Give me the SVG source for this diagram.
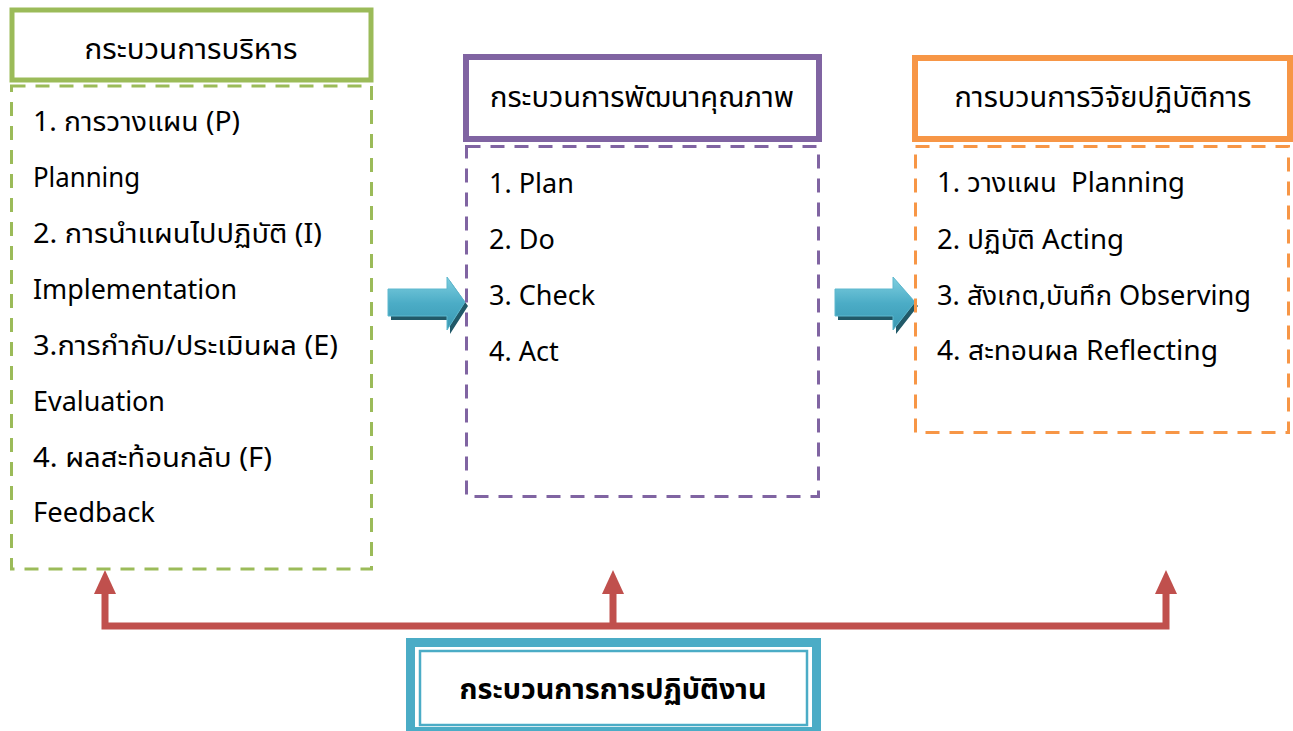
<svg xmlns="http://www.w3.org/2000/svg" width="1293" height="731" viewBox="0 0 1293 731">
<defs>
<style>
text{font-family:"Noto Sans Thai","Noto Sans","DejaVu Sans",sans-serif;font-size:27px;fill:#000}
.hd{text-anchor:middle;font-size:28px}
.dash{fill:none;stroke-width:3;stroke-dasharray:14 10}
.solid{fill:#fff;stroke-width:6}
.red{fill:none;stroke:#C0504D;stroke-width:7}
.redh{fill:#C0504D}
</style>
<linearGradient id="ag" x1="0" y1="0" x2="0" y2="1">
<stop offset="0" stop-color="#7FCFE0"/>
<stop offset="0.5" stop-color="#4BACC6"/>
<stop offset="1" stop-color="#3A98B2"/>
</linearGradient>
</defs>
<rect width="1293" height="731" fill="#fff"/>

<g id="connectors">
<polygon points="391,293 450,293 450,281 468,306 450,334 450,320 391,320" fill="#215968"/>
<polygon points="388,289 447,289 447,277 465,302 447,330 447,316 388,316" fill="url(#ag)" stroke="#5FB8CE" stroke-width="1"/>
<polygon points="838,293 896,293 896,281 918,306 896,334 896,320 838,320" fill="#215968"/>
<polygon points="835,289 893,289 893,277 915,302 893,330 893,316 835,316" fill="url(#ag)" stroke="#5FB8CE" stroke-width="1"/>
<path class="red" d="M105,592 V626 H1166 V592 M613,626 V592"/>
<polygon class="redh" points="105,570 94,594 116,594"/>
<polygon class="redh" points="613,570 602,594 624,594"/>
<polygon class="redh" points="1166,570 1155,594 1177,594"/>
</g>

<g id="node-admin">
<rect x="12" y="10" width="359" height="70" fill="#fff" stroke="#9BBB59" stroke-width="5"/>
<text class="hd" x="191" y="59" textLength="213" lengthAdjust="spacingAndGlyphs">กระบวนการบริหาร</text>
<rect class="dash" x="11.5" y="86" width="360" height="483" stroke="#9BBB59"/>
<text x="33" y="131" textLength="207" lengthAdjust="spacingAndGlyphs">1. การวางแผน (P)</text>
<text x="33" y="187" textLength="107" lengthAdjust="spacingAndGlyphs">Planning</text>
<text x="33" y="243" textLength="289" lengthAdjust="spacingAndGlyphs">2. การนำแผนไปปฏิบัติ (I)</text>
<text x="33" y="299" textLength="204" lengthAdjust="spacingAndGlyphs">Implementation</text>
<text x="33" y="355" textLength="305" lengthAdjust="spacingAndGlyphs">3.การกำกับ/ประเมินผล (E)</text>
<text x="33" y="411" textLength="132" lengthAdjust="spacingAndGlyphs">Evaluation</text>
<text x="33" y="467" textLength="239" lengthAdjust="spacingAndGlyphs">4. ผลสะท้อนกลับ (F)</text>
<text x="33" y="522" textLength="122" lengthAdjust="spacingAndGlyphs">Feedback</text>
</g>

<g id="node-quality">
<rect class="solid" x="466" y="57" width="353" height="82" stroke="#8064A2"/>
<text class="hd" x="642" y="107" textLength="304" lengthAdjust="spacingAndGlyphs">กระบวนการพัฒนาคุณภาพ</text>
<rect class="dash" x="466.5" y="146.5" width="352" height="350" stroke="#8064A2"/>
<text x="489" y="193">1. Plan</text>
<text x="489" y="249">2. Do</text>
<text x="489" y="305">3. Check</text>
<text x="489" y="361">4. Act</text>
</g>

<g id="node-research">
<rect class="solid" x="915" y="58" width="375" height="81" stroke="#F79646"/>
<text class="hd" x="1103" y="107" textLength="297" lengthAdjust="spacingAndGlyphs">การบวนการวิจัยปฏิบัติการ</text>
<rect class="dash" x="915.5" y="146.5" width="373" height="286" stroke="#F79646"/>
<text x="937" y="192" xml:space="preserve" textLength="248" lengthAdjust="spacingAndGlyphs">1. วางแผน  Planning</text>
<text x="937" y="249" textLength="187" lengthAdjust="spacingAndGlyphs">2. ปฏิบัติ Acting</text>
<text x="937" y="305" textLength="314" lengthAdjust="spacingAndGlyphs">3. สังเกต,บันทึก Observing</text>
<text x="937" y="360" textLength="281" lengthAdjust="spacingAndGlyphs">4. สะทอนผล Reflecting</text>
</g>

<g id="node-practice">
<rect x="410.5" y="642.5" width="406" height="89" fill="#fff" stroke="#4BACC6" stroke-width="9"/>
<rect x="420" y="651" width="387" height="74" fill="none" stroke="#4BACC6" stroke-width="2.5"/>
<text class="hd" x="613" y="699" font-weight="bold" textLength="307" lengthAdjust="spacingAndGlyphs">กระบวนการการปฏิบัติงาน</text>
</g>
</svg>
